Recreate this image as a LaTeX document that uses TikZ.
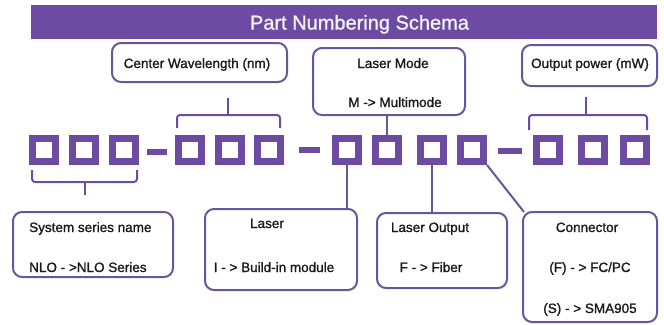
\documentclass[tikz,border=0pt]{standalone}
\usepackage{fontspec}
\setmainfont{Liberation Sans}
\newfontfamily\heavyfont[FakeBold=1.2]{Liberation Sans}
\usetikzlibrary{calc}
\definecolor{pur}{HTML}{6E4BA2}
\definecolor{bord}{HTML}{6A5599}
\definecolor{ttl}{HTML}{F2F2F2}
\tikzset{
  sq/.style={draw=pur, line width=7pt, minimum size=23pt, inner sep=0pt, fill=white},
  dashbar/.style={draw=pur, line width=6pt},
  brace/.style={draw=pur, line width=2pt, rounded corners=3pt},
  rbox/.style={draw=bord, line width=2pt, rounded corners=9pt, inner sep=0pt},
  conn/.style={draw=bord, line width=2pt},
  txt/.style={font=\heavyfont\fontsize{13.5}{16}\selectfont, inner sep=0pt, anchor=base, text=black!90},
  ttltxt/.style={font=\heavyfont\fontsize{20}{24}\selectfont, inner sep=0pt, anchor=base, text=ttl},
}
\begin{document}
\begin{tikzpicture}[x=1pt,y=-1pt]
\useasboundingbox (0,0) rectangle (664,324);
% title bar
\node[fill=pur, minimum width=626pt, minimum height=34pt, inner sep=0pt] (bar) at (344,22) {};
\node[ttltxt] (title) at (359.5,29.5) {Part Numbering Schema};
% squares
\node[sq] (a1) at (44,150) {};
\node[sq] (a2) at (83.5,150) {};
\node[sq] (a3) at (123.5,150) {};
\node[sq] (b1) at (190,150) {};
\node[sq] (b2) at (230,150) {};
\node[sq] (b3) at (269,150) {};
\node[sq] (c1) at (347,150) {};
\node[sq] (c2) at (387,150) {};
\node[sq] (c3) at (431.5,150) {};
\node[sq] (c4) at (472,150) {};
\node[sq] (d1) at (548,150) {};
\node[sq] (d2) at (592.5,150) {};
\node[sq] (d3) at (635,150) {};
% dashes
\draw[dashbar] (147,152) -- (167,152);
\draw[dashbar] (299,150) -- (320,150);
\draw[dashbar] (498,151) -- (522,151);
% braces
\draw[brace] (32,170) -- (32,182) -- (137,182) -- (137,170);
\draw[brace] (85,182) -- (85,195);
\draw[brace] (177,128) -- (177,115) -- (280,115) -- (280,128);
\draw[brace] (228,115) -- (228,98);
\draw[brace] (529,130) -- (529,115) -- (647,115) -- (647,130);
\draw[brace] (586,115) -- (586,97);
% boxes
\node[rbox, minimum width=175pt, minimum height=39pt] (cw) at (199.5,62.5) {};
\node[rbox, minimum width=152pt, minimum height=67pt] (lm) at (389,81.5) {};
\node[rbox, minimum width=135pt, minimum height=41pt] (op) at (589.5,65.5) {};
\node[rbox, minimum width=160pt, minimum height=65pt] (ss) at (93,244.5) {};
\node[rbox, minimum width=152pt, minimum height=81pt] (la) at (281,249.5) {};
\node[rbox, minimum width=130pt, minimum height=75pt] (lo) at (442,250.5) {};
\node[rbox, minimum width=134pt, minimum height=110pt] (co) at (590,267) {};
% texts
\node[txt] (t1) at (197,68) {Center Wavelength (nm)};
\node[txt] (t2) at (393,68) {Laser Mode};
\node[txt] (t3) at (395,107) {M -> Multimode};
\node[txt] (t4) at (590,68) {Output power (mW)};
\node[txt, anchor=base west] (t5) at (29,232) {System series name};
\node[txt, anchor=base west] (t6) at (29,272) {NLO - >NLO Series};
\node[txt] (t7) at (267,228) {Laser};
\node[txt] (t8) at (274,272) {I - > Build-in module};
\node[txt] (t9) at (430,232) {Laser Output};
\node[txt] (t10) at (431,272) {F - > Fiber};
\node[txt] (t11) at (587,232) {Connector};
\node[txt] (t12) at (590,272) {(F) - > FC/PC};
\node[txt] (t13) at (590,313) {(S) - > SMA905};
% connectors
\draw[conn] (c2.north) -- (c2.north |- lm.south);
\draw[conn] (c1.south) -- (c1.south |- la.north);
\draw[conn] (c3.south) -- (c3.south |- lo.north);
\draw[conn] (c4.south east) -- ([shift={(2pt,-1pt)}]co.north west);
\end{tikzpicture}
\end{document}
